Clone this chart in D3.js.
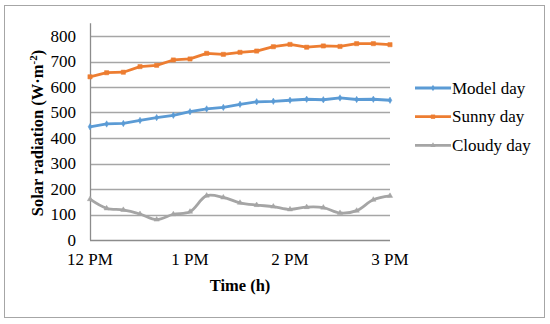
<!DOCTYPE html>
<html>
<head>
<meta charset="utf-8">
<script src="https://cdn.jsdelivr.net/npm/d3@7"></script>
<style>
  body { margin: 0; background: #fff; }
  text { font-family: "Liberation Serif", "Times New Roman", serif; fill: #000; }
</style>
</head>
<body>
<div id="chart"></div>
<script>
var width = 550,
    height = 324;

// minutes after 12 PM, one reading every 10 minutes
var minutes = [0, 10, 20, 30, 40, 50, 60, 70, 80, 90, 100, 110, 120, 130, 140, 150, 160, 170, 180];
var modelDay = [444, 455, 457, 469, 480, 489, 503, 514, 520, 532, 542, 544, 548, 552, 550, 557, 551, 552, 548];
var sunnyDay = [640, 656, 658, 680, 685, 706, 710, 732, 728, 736, 741, 758, 767, 756, 761, 759, 770, 770, 766];
var cloudyDay = [160, 124, 118, 102, 80, 101, 111, 174, 167, 146, 137, 131, 120, 129, 127, 106, 115, 158, 173];

var xTicks = [0, 60, 120, 180];
var xTickLabels = ["12 PM", "1 PM", "2 PM", "3 PM"];
var yTicks = [0, 100, 200, 300, 400, 500, 600, 700, 800];

var seriesNames = ["Model day", "Sunny day", "Cloudy day"];
var seriesColors = ["#5b9bd5", "#ed7d31", "#a5a5a5"];

var series = [
  { name: seriesNames[0], values: modelDay, color: seriesColors[0], smooth: false, marker: "diamond" },
  { name: seriesNames[1], values: sunnyDay, color: seriesColors[1], smooth: false, marker: "square" },
  { name: seriesNames[2], values: cloudyDay, color: seriesColors[2], smooth: true, marker: "triangle" }
];

var svg = d3.select("#chart").append("svg")
  .attr("width", width)
  .attr("height", height);

// outer border
svg.append("rect")
  .attr("x", 4.5).attr("y", 5.5)
  .attr("width", 540).attr("height", 312)
  .style("fill", "#fff")
  .style("stroke", "#a6a6a6")
  .style("stroke-width", 1);

var x = d3.scaleLinear().domain([0, 180]).range([90, 390]);
var y = d3.scaleLinear().domain([0, 850]).range([240, 23.25]);

// gridlines
svg.append("g").selectAll("line")
  .data(yTicks.filter(function(d) { return d > 0; }))
  .enter().append("line")
  .attr("x1", x(0)).attr("x2", x(180))
  .attr("y1", function(d) { return Math.round(y(d)) + 0.5; })
  .attr("y2", function(d) { return Math.round(y(d)) + 0.5; })
  .style("stroke", "#a6a6a6")
  .style("stroke-width", 1.3);

// axes lines
svg.append("line")
  .attr("x1", x(0) + 0.5).attr("x2", x(0) + 0.5)
  .attr("y1", y(850)).attr("y2", y(0))
  .style("stroke", "#8c8c8c").style("stroke-width", 1.3);
svg.append("line")
  .attr("x1", x(0)).attr("x2", x(180))
  .attr("y1", Math.round(y(0)) + 0.5).attr("y2", Math.round(y(0)) + 0.5)
  .style("stroke", "#8c8c8c").style("stroke-width", 1.3);

// y tick labels
svg.append("g").selectAll("text")
  .data(yTicks)
  .enter().append("text")
  .attr("x", 76)
  .attr("y", function(d) { return y(d) + 5.5; })
  .attr("text-anchor", "end")
  .style("font-size", "17px")
  .text(function(d) { return d; });

// x tick labels
svg.append("g").selectAll("text")
  .data(xTicks)
  .enter().append("text")
  .attr("x", function(d) { return x(d); })
  .attr("y", 265)
  .attr("text-anchor", "middle")
  .style("font-size", "17px")
  .text(function(d, i) { return xTickLabels[i]; });

// axis titles
svg.append("text")
  .attr("x", 240).attr("y", 291)
  .attr("text-anchor", "middle")
  .style("font-size", "16.5px")
  .style("font-weight", "bold")
  .text("Time (h)");

var yTitle = svg.append("text")
  .attr("transform", "translate(43,133) rotate(-90)")
  .attr("text-anchor", "middle")
  .style("font-size", "16.5px")
  .style("font-weight", "bold");
yTitle.append("tspan").text("Solar radiation (W·m");
yTitle.append("tspan").attr("dy", -6).style("font-size", "11px").text("-2");
yTitle.append("tspan").attr("dy", 6).text(")");

// lines
var symbolType = { diamond: d3.symbolDiamond, square: d3.symbolSquare, triangle: d3.symbolTriangle };

series.forEach(function(s) {
  var line = d3.line()
    .x(function(d, i) { return x(minutes[i]); })
    .y(function(d) { return y(d); })
    .curve(s.smooth ? d3.curveCatmullRom.alpha(0.5) : d3.curveLinear);

  svg.append("path")
    .datum(s.values)
    .attr("d", line)
    .style("fill", "none")
    .style("stroke", s.color)
    .style("stroke-width", 2.8)
    .style("stroke-linejoin", "round");

  svg.append("g").selectAll("path")
    .data(s.values)
    .enter().append("path")
    .attr("d", d3.symbol().type(symbolType[s.marker]).size(s.marker == "square" ? 18 : 12))
    .attr("transform", function(d, i) { return "translate(" + x(minutes[i]) + "," + y(d) + ")"; })
    .style("fill", s.color)
    .style("stroke", s.color)
    .style("stroke-width", 0.5);
});

// legend
var legend = svg.append("g").selectAll("g")
  .data(series)
  .enter().append("g")
  .attr("transform", function(d, i) { return "translate(415," + (88 + i * 28.7) + ")"; });

legend.append("line")
  .attr("x1", 0).attr("x2", 36)
  .style("stroke", function(d) { return d.color; })
  .style("stroke-width", 2.8);

legend.append("path")
  .attr("d", function(d) { return d3.symbol().type(symbolType[d.marker]).size(d.marker == "square" ? 18 : 12)(); })
  .attr("transform", "translate(18,0)")
  .style("fill", function(d) { return d.color; });

legend.append("text")
  .attr("x", 37)
  .attr("y", 5.5)
  .style("font-size", "17px")
  .text(function(d) { return d.name; });
</script>
</body>
</html>
